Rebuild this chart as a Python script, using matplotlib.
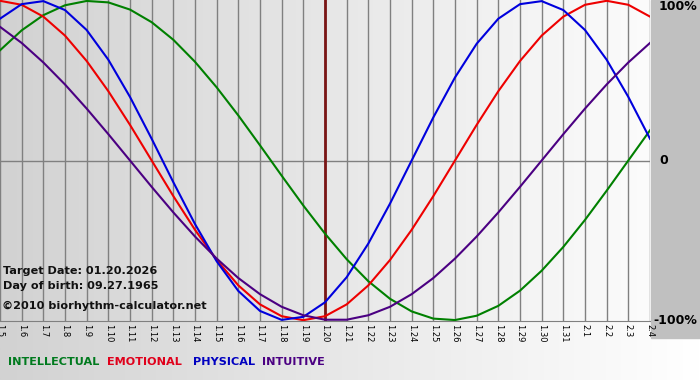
import numpy as np
import matplotlib.pyplot as plt
from matplotlib.colors import LinearSegmentedColormap
from matplotlib.patches import Rectangle

# day labels (month.day), one per grid line
days = ['1.%d' % d for d in range(5, 32)] + ['2.1', '2.2', '2.3', '2.4']

# cycle values, one per day (-1 .. 1)
physical = [0.888, 0.979, 0.998, 0.942, 0.817, 0.631, 0.398, 0.136, -0.136, -0.398,
            -0.631, -0.817, -0.942, -0.998, -0.979, -0.888, -0.731, -0.520, -0.270, 0.0,
            0.270, 0.520, 0.731, 0.888, 0.979, 0.998, 0.942, 0.817, 0.631, 0.398, 0.136]
emotional = [1.0, 0.975, 0.901, 0.782, 0.623, 0.434, 0.223, 0.0, -0.223, -0.434,
             -0.623, -0.782, -0.901, -0.975, -1.0, -0.975, -0.901, -0.782, -0.623, -0.434,
             -0.223, 0.0, 0.223, 0.434, 0.623, 0.782, 0.901, 0.975, 1.0, 0.975, 0.901]
intellectual = [0.690, 0.815, 0.910, 0.972, 0.999, 0.990, 0.945, 0.866, 0.756, 0.618,
                0.458, 0.282, 0.095, -0.095, -0.282, -0.458, -0.618, -0.756, -0.866, -0.945,
                -0.990, -0.999, -0.972, -0.910, -0.815, -0.690, -0.541, -0.372, -0.189, 0.0, 0.189]
intuitive = [0.837, 0.736, 0.614, 0.476, 0.325, 0.165, 0.0, -0.165, -0.325, -0.476,
             -0.614, -0.736, -0.837, -0.916, -0.969, -0.997, -0.997, -0.969, -0.916, -0.837,
             -0.736, -0.614, -0.476, -0.325, -0.165, 0.0, 0.165, 0.325, 0.476, 0.614, 0.736]
target_day = '1.20'

W, H = 700, 380
fig = plt.figure(figsize=(W / 100, H / 100), dpi=100)

# grey-to-white background behind everything
bg = fig.add_axes([0, 0, 1, 1], zorder=0)
cmap = LinearSegmentedColormap.from_list('bg', ['#d2d2d2', '#ffffff'])
bg.imshow(np.linspace(0, 1, 256).reshape(1, -1), aspect='auto', cmap=cmap,
          extent=[0, 1, 0, 1])
bg.add_patch(Rectangle((651 / W, 1 - 338 / H), 49 / W, 338 / H, color='#c0c0c0'))
bg.set_xlim(0, 1)
bg.set_ylim(0, 1)
bg.axis('off')

ax = fig.add_axes([0, 1 - 321 / H, 650 / W, 321 / H], zorder=1)
ax.patch.set_alpha(0)
x = np.arange(len(days))

for xi in x:
    ax.axvline(xi, color='#808080', lw=1, zorder=1)
ax.axhline(0, color='#808080', lw=1, zorder=1)
ax.axvline(days.index(target_day), color='#7a1515', lw=2, zorder=2)

ax.plot(x, intellectual, color='#008000', lw=1.5, zorder=3)
ax.plot(x, emotional, color='#ee0000', lw=1.5, zorder=3)
ax.plot(x, physical, color='#0000dd', lw=1.5, zorder=3)
ax.plot(x, intuitive, color='#4b0082', lw=1.5, zorder=3)

ax.set_xlim(0, len(days) - 1)
ax.set_ylim(-1.005, 1.005)
ax.set_xticks(x)
ax.set_xticklabels(days, rotation=270, fontsize=6, va='top', ha='center')
ax.tick_params(axis='x', length=0, pad=2)
ax.set_yticks([])
for s in ['top', 'left', 'right']:
    ax.spines[s].set_visible(False)
ax.spines['bottom'].set_color('#808080')

def px(xp, yp):
    return xp / W, 1 - yp / H

fig.text(*px(659, 7), '100%', fontsize=9, fontweight='bold', va='center', ha='left')
fig.text(*px(659, 161), '0', fontsize=9, fontweight='bold', va='center', ha='left')
fig.text(*px(653, 321), '-100%', fontsize=9, fontweight='bold', va='center', ha='left')

fig.text(*px(3, 271), 'Target Date: 01.20.2026', fontsize=8.1, fontweight='bold',
         va='center', color='#111111', zorder=5)
fig.text(*px(3, 286), 'Day of birth: 09.27.1965', fontsize=8.1, fontweight='bold',
         va='center', color='#111111', zorder=5)
fig.text(*px(2, 306), '\u00a92010 biorhythm-calculator.net', fontsize=8.1,
         fontweight='bold', va='center', color='#111111', zorder=5)

legend = [('INTELLECTUAL', '#007a1e', 8), ('EMOTIONAL', '#e0001b', 107),
          ('PHYSICAL', '#0000c0', 193), ('INTUITIVE', '#4b0082', 262)]
for name, col, xp in legend:
    fig.text(*px(xp, 362), name, fontsize=8.1, fontweight='bold', color=col, va='center')

fig.savefig('out.png', dpi=100)
